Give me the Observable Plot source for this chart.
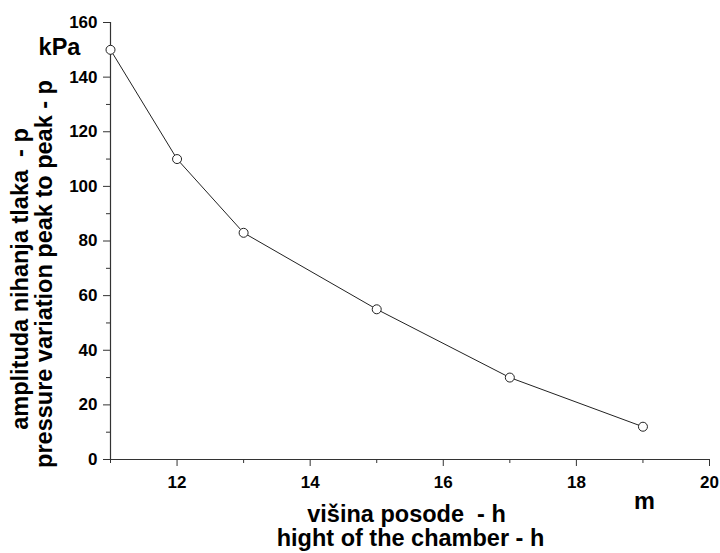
<!DOCTYPE html>
<html>
<head>
<meta charset="utf-8">
<script src="https://cdn.jsdelivr.net/npm/d3@7"></script>
<script src="https://cdn.jsdelivr.net/npm/@observablehq/plot@0.6"></script>
<style>
  html, body { margin: 0; padding: 0; background: #fff; }
  svg text { white-space: pre; }
</style>
</head>
<body>
<div id="chart"></div>
<script>
// Data
const heights = [11, 12, 13, 15, 17, 19];           // m
const amplitudes = [150, 110, 83, 55, 30, 12];      // kPa
const xMajorTicks = [12, 14, 16, 18, 20];
const xMinorTicks = [11, 13, 15, 17, 19];
const yMajorTicks = [0, 20, 40, 60, 80, 100, 120, 140, 160];
const yMinorTicks = [10, 30, 50, 70, 90, 110, 130, 150];
const yTitleLines = ["amplituda nihanja tlaka  - p", "pressure variation peak to peak - p"];
const xTitleLines = ["višina posode  - h", "hight of the chamber - h"];
const yUnit = "kPa";
const xUnit = "m";

const data = heights.map((h, i) => ({h, p: amplitudes[i]}));

const font = "'Liberation Sans', Arial, Helvetica, sans-serif";
const axisColor = "#333";
const titleSize = 23.5;

const chart = Plot.plot({
  width: 720,
  height: 553,
  marginLeft: 110,
  marginRight: 11,
  marginTop: 22,
  marginBottom: 94,
  style: {fontFamily: font, background: "#fff", color: "#000", overflow: "visible"},
  x: {domain: [11, 20], label: null},
  y: {domain: [0, 160], label: null},
  marks: [
    // axis lines
    Plot.ruleX([11], {y1: 0, y2: 160, stroke: axisColor, strokeWidth: 1.2}),
    Plot.ruleY([0], {x1: 11, x2: 20, stroke: axisColor, strokeWidth: 1.2}),
    // y axis
    Plot.axisY({ticks: yMajorTicks, tickSize: 7, tickPadding: 6, label: null, stroke: axisColor,
      fill: "#000", fontSize: 17, fontWeight: "bold"}),
    Plot.axisY({ticks: yMinorTicks, tickSize: 4, tickFormat: () => "", label: null, stroke: axisColor}),
    // x axis
    Plot.axisX({ticks: xMajorTicks, tickSize: 7, tickPadding: 9, label: null, stroke: axisColor,
      fill: "#000", fontSize: 17, fontWeight: "bold"}),
    Plot.axisX({ticks: xMinorTicks, tickSize: 4, tickFormat: () => "", label: null, stroke: axisColor}),
    // data
    Plot.line(data, {x: "h", y: "p", stroke: "#222", strokeWidth: 1}),
    Plot.dot(data, {x: "h", y: "p", r: 4.5, stroke: "#222", strokeWidth: 1, fill: "#fff"}),
    // titles
    Plot.text([yTitleLines[0]], {text: d => d, frameAnchor: "left", rotate: -90, dx: -83, dy: 38,
      textAnchor: "middle", lineAnchor: "bottom", fontSize: titleSize, fontWeight: "bold", fill: "#000"}),
    Plot.text([yTitleLines[1]], {text: d => d, frameAnchor: "left", rotate: -90, dx: -59, dy: 33,
      textAnchor: "middle", lineAnchor: "bottom", fontSize: titleSize, fontWeight: "bold", fill: "#000"}),
    Plot.text([yUnit], {text: d => d, frameAnchor: "top-left", dx: -51, dy: 32,
      textAnchor: "middle", lineAnchor: "bottom", fontSize: titleSize, fontWeight: "bold", fill: "#000"}),
    Plot.text([xTitleLines[0]], {text: d => d, frameAnchor: "bottom", dx: -3.5, dy: 62,
      textAnchor: "middle", lineAnchor: "bottom", fontSize: titleSize, fontWeight: "bold", fill: "#000"}),
    Plot.text([xTitleLines[1]], {text: d => d, frameAnchor: "bottom", dx: 0.5, dy: 86,
      textAnchor: "middle", lineAnchor: "bottom", fontSize: titleSize, fontWeight: "bold", fill: "#000"}),
    Plot.text([xUnit], {text: d => d, frameAnchor: "bottom-right", dx: -65, dy: 49,
      textAnchor: "middle", lineAnchor: "bottom", fontSize: titleSize, fontWeight: "bold", fill: "#000"})
  ]
});

document.getElementById("chart").appendChild(chart);
</script>
</body>
</html>
